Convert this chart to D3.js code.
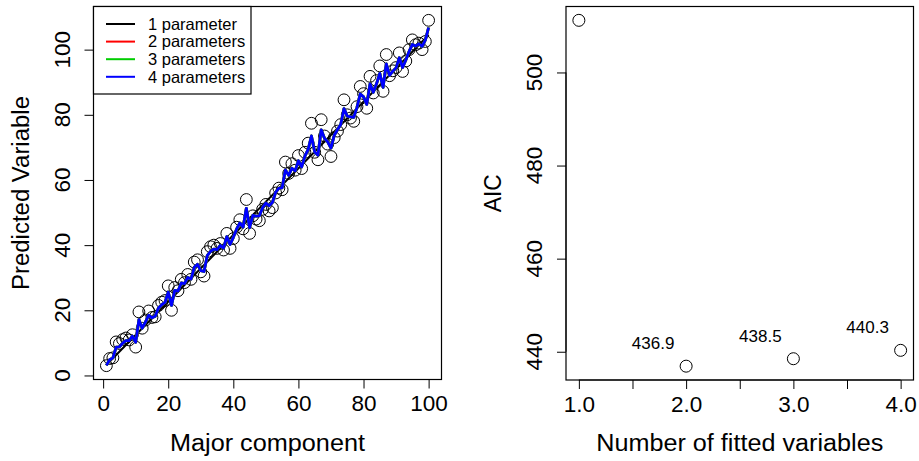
<!DOCTYPE html>
<html><head><meta charset="utf-8">
<script src="https://cdn.jsdelivr.net/npm/d3@7"></script>
<style>body{margin:0;background:#fff}svg{display:block}text{font-family:"Liberation Sans",Arial,sans-serif;fill:#000}</style>
</head><body><svg id="c" width="919" height="461"></svg>
<script>
// ---------- data ----------
const majorComponent = d3.range(1, 101);
const predicted = [3.0,5.2,5.4,10.3,9.8,11.0,11.5,10.9,12.5,8.7,
19.5,14.5,17.0,19.8,17.8,18.0,21.5,22.5,23.0,27.5,
20.0,27.0,26.0,29.5,28.5,31.0,29.5,34.8,35.5,31.8,
30.5,38.0,39.5,40.0,39.0,40.5,38.5,43.6,39.0,42.0,
45.5,47.8,45.0,54.0,43.6,49.0,48.0,47.5,51.0,52.5,
50.5,51.5,56.0,57.5,57.0,65.5,62.0,65.0,63.0,67.5,
63.5,68.5,71.3,77.4,68.5,66.2,78.5,73.5,71.0,67.2,
73.0,75.0,77.0,84.6,80.0,79.0,78.0,82.5,88.7,86.5,
82.0,91.8,86.7,90.5,95.0,87.2,98.5,92.0,93.5,94.5,
99.0,93.3,96.5,100.0,103.0,101.5,102.0,100.0,102.5,109.0];
const fit1x = [1, 100];
const fit1 = [3.2, 104.5];
const fit4 = [3.1,4.8,5.4,8.7,8.8,9.9,10.7,10.7,12.1,10.2,
17.1,14.5,16.4,18.5,17.7,18.2,20.7,21.7,22.4,25.6,
21.5,26.1,25.9,28.4,28.2,30.1,29.6,33.2,34.1,32.2,
31.9,36.8,38.1,38.8,38.6,39.9,39.1,42.6,40.2,42.4,
44.9,46.8,45.5,51.3,45.4,49.1,48.9,49.0,51.5,52.9,
52.1,53.1,56.2,57.5,57.6,63.1,61.4,63.6,62.8,65.9,
64.0,67.3,69.4,73.5,68.6,67.6,75.4,72.8,71.7,69.8,
73.7,75.4,77.0,81.9,79.6,79.4,79.2,82.3,86.4,85.5,
83.2,89.5,86.9,89.5,92.7,88.4,95.6,92.1,93.4,94.4,
97.5,94.5,96.8,99.4,101.6,101.1,101.8,101.0,102.9,106.8];
const fit2 = fit4.slice();
const fit3 = fit4.slice();
const legendLabels = ["1 parameter","2 parameters","3 parameters","4 parameters"];
const legendColors = ["#000000","#ff0000","#00cd00","#0000ff"];

const nVars = [1, 2, 3, 4];
const aic = [511.2, 436.9, 438.5, 440.3];
const aicLabels = ["", "436.9", "438.5", "440.3"];
const leftXTicks = [0,20,40,60,80,100];
const leftYTicks = [0,20,40,60,80,100];
const rightXTicks = [1,1.5,2,2.5,3,3.5,4];
const rightYTicks = [440,460,480,500];

// ---------- helpers ----------
const svg = d3.select("#c");
function rDomain(ext){const w=ext[1]-ext[0];return [ext[0]-0.04*w, ext[1]+0.04*w];}
const AX = 22.5, TT = 23;

function panel(box, xs, ys, xticks, yticks, xfmt, xlab, ylab, xlabLen, ylabLen){
  const g = svg.append("g");
  const xa = g.append("g").attr("transform",`translate(0,${box.b})`)
    .call(d3.axisBottom(xs).tickValues(xticks).tickSize(9).tickSizeOuter(0).tickPadding(7).tickFormat(xfmt));
  xa.select(".domain").remove();
  xa.append("line").attr("x1",xs(xticks[0])).attr("x2",xs(xticks[xticks.length-1])).attr("stroke","#000");
  xa.selectAll("text").attr("font-size",AX).attr("font-family","Liberation Sans").attr("fill","#000");
  xa.selectAll("line").attr("stroke","#000");
  const ya = g.append("g").attr("transform",`translate(${box.l},0)`)
    .call(d3.axisLeft(ys).tickValues(yticks).tickSize(9).tickSizeOuter(0).tickFormat(""));
  ya.select(".domain").remove();
  ya.append("line").attr("y1",ys(yticks[0])).attr("y2",ys(yticks[yticks.length-1])).attr("stroke","#000");
  ya.selectAll("line").attr("stroke","#000");
  g.selectAll(".ylab").data(yticks).join("text")
    .attr("transform",d=>`translate(${box.l-24},${ys(d)}) rotate(-90)`)
    .attr("text-anchor","middle").attr("font-size",AX).text(d=>d);
  g.append("rect").attr("x",box.l).attr("y",box.t).attr("width",box.r-box.l).attr("height",box.b-box.t)
    .attr("fill","none").attr("stroke","#000").attr("stroke-width",1.2);
  g.append("text").attr("x",(box.l+box.r)/2).attr("y",451).attr("text-anchor","middle").attr("font-size",TT)
    .attr("textLength",xlabLen).attr("lengthAdjust","spacingAndGlyphs").text(xlab);
  g.append("text").attr("transform",`translate(${box.l-65},${(box.t+box.b)/2}) rotate(-90)`)
    .attr("text-anchor","middle").attr("font-size",TT)
    .attr("textLength",ylabLen).attr("lengthAdjust","spacingAndGlyphs").text(ylab);
  return g;
}

// ---------- left panel ----------
const L = {l:93.5, r:441.5, t:6.5, b:379.5};
const xL = d3.scaleLinear().domain(rDomain(d3.extent(majorComponent))).range([L.l, L.r]);
const yL = d3.scaleLinear().domain(rDomain(d3.extent(predicted))).range([L.b, L.t]);
const gL = panel(L, xL, yL, leftXTicks, leftYTicks, d=>d, "Major component", "Predicted Variable", 195, 194);
gL.selectAll(".pt").data(predicted).join("circle")
  .attr("cx",(d,i)=>xL(majorComponent[i])).attr("cy",d=>yL(d)).attr("r",5.9)
  .attr("fill","none").attr("stroke","#000").attr("stroke-width",1);
const line = d3.line().x(d=>xL(d[0])).y(d=>yL(d[1]));
gL.append("path").attr("d",line(fit1x.map((x,i)=>[x,fit1[i]]))).attr("stroke",legendColors[0]).attr("stroke-width",2).attr("fill","none");
[fit2,fit3,fit4].forEach((f,k)=>{
  gL.append("path").attr("d",line(majorComponent.map((x,i)=>[x,f[i]])))
    .attr("stroke",legendColors[k+1]).attr("stroke-width",2.8).attr("fill","none").attr("stroke-linejoin","round");
});
const lg = gL.append("g");
lg.append("rect").attr("x",L.l).attr("y",L.t).attr("width",157.5).attr("height",87.5).attr("fill","#fff").attr("stroke","#000").attr("stroke-width",1.2);
legendLabels.forEach((t,i)=>{
  const y = 24 + i*17.6;
  lg.append("line").attr("x1",106).attr("x2",135).attr("y1",y).attr("y2",y).attr("stroke",legendColors[i]).attr("stroke-width",2);
  lg.append("text").attr("x",148).attr("y",y).attr("dy","0.35em").attr("font-size",16.5).text(t);
});

// ---------- right panel ----------
const R = {l:566, r:913.5, t:6.5, b:380};
const xR = d3.scaleLinear().domain(rDomain(d3.extent(nVars))).range([R.l, R.r]);
const yR = d3.scaleLinear().domain(rDomain(d3.extent(aic))).range([R.b, R.t]);
const gR = panel(R, xR, yR, rightXTicks, rightYTicks, d=>Number.isInteger(d)?d.toFixed(1):"", "Number of fitted variables", "AIC", 287, 38);
gR.selectAll(".pt").data(aic).join("circle")
  .attr("cx",(d,i)=>xR(nVars[i])).attr("cy",d=>yR(d)).attr("r",6)
  .attr("fill","none").attr("stroke","#000").attr("stroke-width",1);
gR.selectAll(".al").data(aicLabels).join("text")
  .attr("x",(d,i)=>xR(nVars[i])-33).attr("y",(d,i)=>yR(aic[i])-23).attr("dy","0.35em")
  .attr("text-anchor","middle").attr("font-size",17).text(d=>d);
</script></body></html>
